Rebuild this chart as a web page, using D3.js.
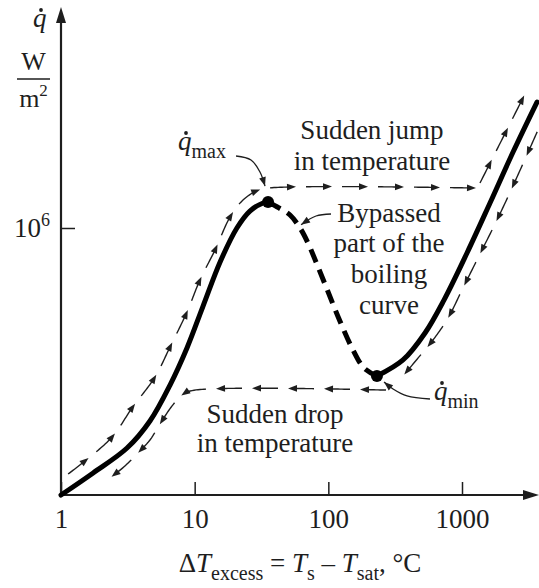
<!DOCTYPE html>
<html>
<head>
<meta charset="utf-8">
<script src="https://cdn.jsdelivr.net/npm/d3@7"></script>
</head>
<body style="margin:0">
<script>
// values: excess temperature (C) and heat flux (W/m2)
var nucleateT = [1, 1.74, 3.12, 4.63, 6.54, 8.76, 11.5, 15.5, 20.7, 25.9, 32.5, 35.4];
var nucleateQ = [1000, 1770, 3370, 6790, 17200, 44900, 130000, 415000, 1000000, 1550000, 1910000, 1960000];

var transitionT = [35.4, 42.7, 51.7, 61.4, 70.4, 80.9, 97.7, 122, 153, 185, 231];
var transitionQ = [1960000, 1680000, 1400000, 1000000, 679000, 415000, 206000, 90200, 42600, 26700, 21700];

var filmT = [231, 362, 529, 733, 1090, 1620, 2410, 3640];
var filmQ = [21700, 32900, 66100, 155000, 524000, 1910000, 7140000, 26000000];

// heating path (arrows going up) and cooling path (arrows going down)
var heatUpT = [1.13, 1.51, 2.41, 3.40, 5.05, 6.54, 8.76, 10.96, 14.2, 18.4, 22.6, 28.8, 35.4, 1295];
var heatUpQ = [1720, 2410, 4480, 9500, 21200, 46000, 114000, 261000, 566000, 1330000, 2010000, 2600000, 2810000, 2810000];
var heatFilmT = [1363, 3063];
var heatFilmQ = [3200000, 35500000];
var coolFilmT = [3702, 2366, 1827, 1363, 1017, 786, 607, 469, 362];
var coolFilmQ = [12600000, 2810000, 1230000, 510000, 212000, 97400, 55200, 34600, 21700];
var coolDownT = [270, 10.06, 8.18, 6.77, 5.50, 4.63, 3.70, 3.01, 2.33, 1.86];
var coolDownQ = [15100, 15100, 13600, 10000, 6280, 4150, 2890, 2120, 1550, 1170];

// leader lines for the annotations
var qmaxLeaderT = [20.4, 26.4, 30.8, 33.6];
var qmaxLeaderQ = [6440000, 5810000, 4260000, 2960000];
var bypassLeaderT = [104.7, 80.9, 62.5];
var bypassLeaderQ = [1437000, 1364000, 1090000];
var qminLeaderT = [576, 388, 305, 261];
var qminLeaderQ = [11990, 12960, 15520, 18610];

var xTicks = [1, 10, 100, 1000];
var yTicks = [1e6];

var fontName = "Liberation Serif";
var width = 539, height = 588;
var x = d3.scaleLog().domain([1, 1000]).range([61, 462]);
var y = d3.scaleLog().domain([1e3, 1e6]).range([495, 228]);
var x0 = x(1), y0 = y(1e3);
var ink = "#1e1e1e";

var svg = d3.select("body").append("svg")
    .attr("width", width)
    .attr("height", height);

// text labels
function label(px, py, size, anchor) {
    return svg.append("text")
        .attr("x", px).attr("y", py)
        .attr("font-size", size)
        .attr("text-anchor", anchor || "start")
        .attr("fill", ink)
        .style("font-family", fontName);
}

// italic q with the time-derivative dot over it
function qDot(px, py, sub) {
    var t = label(px, py, 27);
    t.append("tspan").attr("font-style", "italic").text("q");
    if (sub) {
        t.append("tspan").attr("font-size", 20).attr("dy", 8).text(sub);
    }
    svg.append("circle").attr("cx", px + 8).attr("cy", py - 17).attr("r", 1.9).attr("fill", ink);
}

qDot(33, 27);
label(33.5, 70, 26, "middle").text("W");
var m2 = label(33.5, 107, 26, "middle");
m2.append("tspan").text("m");
m2.append("tspan").attr("font-size", 17).attr("dy", -11).text("2");

qDot(178, 150, "max");
qDot(434, 400, "min");

function block(lines, cx, baselines) {
    lines.forEach(function(t, i) {
        label(cx, baselines[i], 27, "middle").text(t);
    });
}
block(["Sudden jump", "in temperature"], 372, [139, 170]);
block(["Bypassed", "part of the", "boiling", "curve"], 389, [222, 252, 283, 314]);
block(["Sudden drop", "in temperature"], 275, [423, 452]);

var xt = label(300, 572, 27, "middle");
xt.append("tspan").text("\u0394");
xt.append("tspan").attr("font-style", "italic").text("T");
xt.append("tspan").attr("font-size", 20).attr("dy", 8).text("excess");
xt.append("tspan").attr("dy", -8).text(" = ");
xt.append("tspan").attr("font-style", "italic").text("T");
xt.append("tspan").attr("font-size", 20).attr("dy", 8).text("s");
xt.append("tspan").attr("dy", -8).text(" \u2013 ");
xt.append("tspan").attr("font-style", "italic").text("T");
xt.append("tspan").attr("font-size", 20).attr("dy", 8).text("sat");
xt.append("tspan").attr("dy", -8).text(", \u00b0C");

// axes
var xAxis = d3.axisBottom(x)
    .tickValues(xTicks)
    .tickSize(-13)
    .tickPadding(14)
    .tickFormat(d3.format("d"));

var gx = svg.append("g")
    .attr("transform", "translate(0," + y0 + ")")
    .call(xAxis)
    .attr("font-family", null)
    .attr("font-size", 27);
gx.select(".domain").remove();
gx.selectAll(".tick line").attr("stroke", ink).attr("stroke-width", 1.5);
gx.selectAll(".tick text")
    .style("font-family", fontName).attr("font-size", 27).attr("fill", ink);

var yAxis = d3.axisLeft(y)
    .tickValues(yTicks)
    .tickSize(-14)
    .tickPadding(11)
    .tickFormat(function() { return "10"; });

var gy = svg.append("g")
    .attr("transform", "translate(" + x0 + ",0)")
    .call(yAxis)
    .attr("font-family", null)
    .attr("font-size", 27);
gy.select(".domain").remove();
gy.selectAll(".tick line").attr("stroke", ink).attr("stroke-width", 1.5);
gy.selectAll(".tick text")
    .style("font-family", fontName).attr("font-size", 27).attr("fill", ink)
  .append("tspan")
    .attr("font-size", 18)
    .attr("dy", -11)
    .text("6");

svg.append("line").attr("x1", 17).attr("x2", 50).attr("y1", 79).attr("y2", 79)
    .attr("stroke", ink).attr("stroke-width", 1.6);

svg.append("line")
    .attr("x1", x0).attr("y1", y0).attr("x2", x0).attr("y2", 20)
    .attr("stroke", ink).attr("stroke-width", 2.2);
svg.append("path")
    .attr("d", "M" + x0 + ",7L" + (x0 - 5) + ",23L" + (x0 + 5) + ",23Z")
    .attr("fill", ink);
svg.append("line")
    .attr("x1", x0).attr("y1", y0).attr("x2", 526).attr("y2", y0)
    .attr("stroke", ink).attr("stroke-width", 2.2);
svg.append("path")
    .attr("d", "M539," + y0 + "L523," + (y0 - 5) + "L523," + (y0 + 5) + "Z")
    .attr("fill", ink);

// boiling curve
var smooth = d3.line()
    .x(function(d) { return x(d[0]); })
    .y(function(d) { return y(d[1]); })
    .curve(d3.curveCatmullRom.alpha(0.5));

svg.append("path")
    .datum(d3.zip(nucleateT, nucleateQ))
    .attr("d", smooth)
    .attr("fill", "none").attr("stroke", "#000")
    .attr("stroke-width", 5).attr("stroke-linecap", "round");

svg.append("path")
    .datum(d3.zip(transitionT, transitionQ))
    .attr("d", smooth)
    .attr("fill", "none").attr("stroke", "#000")
    .attr("stroke-width", 5).attr("stroke-dasharray", "14,8");

svg.append("path")
    .datum(d3.zip(filmT, filmQ))
    .attr("d", smooth)
    .attr("fill", "none").attr("stroke", "#000")
    .attr("stroke-width", 5).attr("stroke-linecap", "round");

svg.selectAll(".extreme")
    .data([[transitionT[0], transitionQ[0]], [transitionT[transitionT.length - 1], transitionQ[transitionQ.length - 1]]])
  .enter().append("circle")
    .attr("class", "extreme")
    .attr("cx", function(d) { return x(d[0]); })
    .attr("cy", function(d) { return y(d[1]); })
    .attr("r", 6)
    .attr("fill", "#000");

// sample the smooth curve into a polyline
function sampleCurve(pts) {
    var poly = [], cx = 0, cy = 0;
    var ctx = {
        moveTo: function(a, b) { poly.push([a, b]); cx = a; cy = b; },
        lineTo: function(a, b) { poly.push([a, b]); cx = a; cy = b; },
        bezierCurveTo: function(ax, ay, bx, by, ex, ey) {
            for (var k = 1; k <= 40; k++) {
                var t = k / 40, u = 1 - t;
                poly.push([
                    u * u * u * cx + 3 * u * u * t * ax + 3 * u * t * t * bx + t * t * t * ex,
                    u * u * u * cy + 3 * u * u * t * ay + 3 * u * t * t * by + t * t * t * ey
                ]);
            }
            cx = ex; cy = ey;
        },
        closePath: function() {}
    };
    smooth.context(ctx)(pts);
    smooth.context(null);
    var cum = [0];
    for (var i = 1; i < poly.length; i++) {
        cum.push(cum[i - 1] + Math.hypot(poly[i][0] - poly[i - 1][0], poly[i][1] - poly[i - 1][1]));
    }
    return {
        total: cum[cum.length - 1],
        at: function(s) {
            s = Math.max(0, Math.min(s, cum[cum.length - 1]));
            var i = d3.bisectRight(cum, s);
            if (i >= poly.length) return { x: poly[poly.length - 1][0], y: poly[poly.length - 1][1] };
            var seg = cum[i] - cum[i - 1] || 1;
            var f = (s - cum[i - 1]) / seg;
            return {
                x: poly[i - 1][0] + f * (poly[i][0] - poly[i - 1][0]),
                y: poly[i - 1][1] + f * (poly[i][1] - poly[i - 1][1])
            };
        }
    };
}

function arrowHead(g, tip, back, len, half) {
    var dx = tip.x - back.x, dy = tip.y - back.y;
    var n = Math.sqrt(dx * dx + dy * dy) || 1;
    dx /= n; dy /= n;
    var bx = tip.x - dx * len, by = tip.y - dy * len;
    g.append("path")
        .attr("d", "M" + tip.x + "," + tip.y +
            "L" + (bx - dy * half) + "," + (by + dx * half) +
            "L" + (bx + dy * half) + "," + (by - dx * half) + "Z")
        .attr("fill", ink);
}

// dashed arrow paths: every dash ends in a small arrow head
function arrowDashes(pts, period, dash, offset) {
    var g = svg.append("g");
    var c = sampleCurve(pts);
    for (var s = offset; s + dash <= c.total; s += period) {
        var seg = [];
        for (var t = s; t <= s + dash - 5; t += 2) {
            var p = c.at(t);
            seg.push([p.x, p.y]);
        }
        var pe = c.at(s + dash - 5);
        seg.push([pe.x, pe.y]);
        g.append("path")
            .attr("d", d3.line()(seg))
            .attr("fill", "none").attr("stroke", ink).attr("stroke-width", 1.4);
        arrowHead(g, c.at(s + dash), c.at(s + dash - 4), 9, 3.4);
    }
}

arrowDashes(d3.zip(heatUpT, heatUpQ), 36, 26, 0);
arrowDashes(d3.zip(heatFilmT, heatFilmQ), 36, 26, 0);
arrowDashes(d3.zip(coolFilmT, coolFilmQ), 36, 26, 2);
arrowDashes(d3.zip(coolDownT, coolDownQ), 36, 26, 0);

// leader lines
function leader(ts, qs) {
    var pts = d3.zip(ts, qs);
    svg.append("path")
        .datum(pts)
        .attr("d", smooth)
        .attr("fill", "none").attr("stroke", ink).attr("stroke-width", 1.3);
    var c = sampleCurve(pts);
    arrowHead(svg, c.at(c.total), c.at(c.total - 4), 9, 3.4);
}
leader(qmaxLeaderT, qmaxLeaderQ);
leader(bypassLeaderT, bypassLeaderQ);
leader(qminLeaderT, qminLeaderQ);
</script>
</body>
</html>
